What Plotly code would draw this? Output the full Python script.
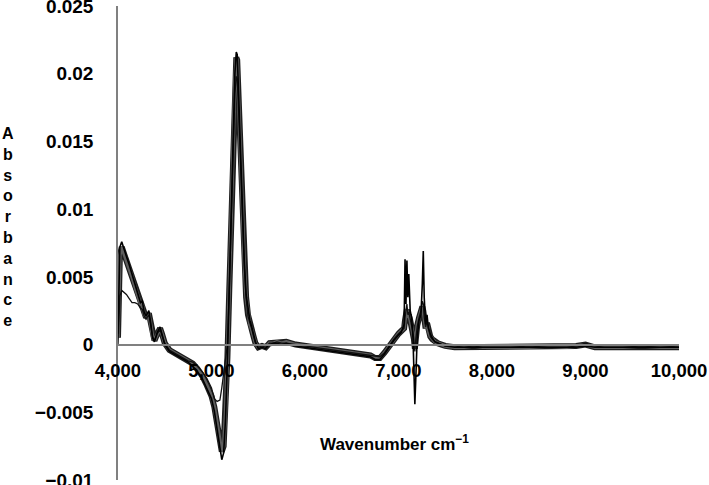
import plotly.graph_objects as go

wavenumber = [
    4000, 4020, 4040, 4060, 4090, 4120, 4150, 4180, 4210, 4240,
    4260, 4280, 4300, 4330, 4350, 4370, 4390, 4420, 4450, 4470,
    4500, 4550, 4600, 4650, 4700, 4750, 4800, 4850, 4900, 4950,
    5000, 5030, 5060, 5090, 5110, 5130, 5150, 5170, 5190, 5210,
    5230, 5250, 5265, 5275, 5290, 5310, 5330, 5350, 5370, 5390,
    5410, 5430, 5450, 5470, 5500, 5540, 5580, 5620, 5660, 5700,
    5750, 5800, 5900, 6000, 6100, 6200, 6300, 6400, 6500, 6600,
    6700, 6750, 6800, 6850, 6900, 6950, 7000, 7030, 7060, 7070,
    7080, 7090, 7100, 7110, 7125, 7140, 7155, 7165, 7175, 7185,
    7200, 7220, 7240, 7255, 7265, 7275, 7290, 7305, 7320, 7340,
    7360, 7390, 7420, 7460, 7500, 7600, 7700, 7800, 7900, 8000,
    8200, 8400, 8600, 8800, 8900, 9000, 9100, 9200, 9400, 9600,
    9800, 10000,
]

# main band of spectra (grey)
spectrum_a = [
    0.0005, 0.0066, 0.0072, 0.0068, 0.0063, 0.0057, 0.0050, 0.0043, 0.0036, 0.0030,
    0.0029, 0.0022, 0.0020, 0.0023, 0.0015, 0.0006, 0.0003, 0.0008, 0.0012, 0.0008,
    0.0001, -0.0004, -0.0006, -0.0008, -0.0010, -0.0012, -0.0014, -0.0018, -0.0023, -0.0030,
    -0.0038, -0.0046, -0.0058, -0.0072, -0.0079, -0.0075, -0.0050, -0.0010, 0.0040, 0.0095,
    0.0150, 0.0195, 0.0212, 0.0210, 0.0180, 0.0140, 0.0095, 0.0060, 0.0035, 0.0022,
    0.0015, 0.0011, 0.0006, 0.0001, -0.0002, -0.0001, -0.0002, 0.0001, 0.0001, 0.0002,
    0.0001, 0.0002, 0.0000, -0.0001, -0.0002, -0.0003, -0.0004, -0.0005, -0.0006, -0.0007,
    -0.0008, -0.0010, -0.0010, -0.0006, -0.0001, 0.0004, 0.0008, 0.0010, 0.0012, 0.0018,
    0.0024, 0.0026, 0.0020, 0.0022, 0.0018, 0.0014, 0.0008, 0.0004, -0.0003, 0.0005,
    0.0014, 0.0020, 0.0024, 0.0028, 0.0025, 0.0018, 0.0012, 0.0016, 0.0010, 0.0006,
    0.0004, 0.0002, 0.0001, 0.0000, -0.0001, -0.0002, -0.0002, -0.0001, -0.0002, -0.0002,
    -0.0002, -0.0002, -0.0001, -0.0002, -0.0001, 0.0000, -0.0002, -0.0002, -0.0002, -0.0001,
    -0.0002, -0.0002,
]

# black spectrum with sharp water-vapour spikes
spectrum_b = [
    0.0008, 0.0072, 0.0076, 0.0071, 0.0065, 0.0059, 0.0052, 0.0044, 0.0037, 0.0031,
    0.0032, 0.0024, 0.0021, 0.0025, 0.0016, 0.0005, 0.0002, 0.0009, 0.0013, 0.0007,
    0.0000, -0.0005, -0.0007, -0.0009, -0.0011, -0.0013, -0.0016, -0.0020, -0.0025, -0.0032,
    -0.0040, -0.0049, -0.0062, -0.0077, -0.0085, -0.0080, -0.0055, -0.0012, 0.0042, 0.0098,
    0.0155, 0.0200, 0.0216, 0.0214, 0.0185, 0.0145, 0.0098, 0.0063, 0.0037, 0.0026,
    0.0018, 0.0013, 0.0007, 0.0002, -0.0003, -0.0002, -0.0003, 0.0000, 0.0001, 0.0001,
    0.0000, 0.0001, -0.0001, -0.0002, -0.0003, -0.0004, -0.0005, -0.0006, -0.0007, -0.0008,
    -0.0009, -0.0011, -0.0011, -0.0007, -0.0002, 0.0003, 0.0007, 0.0009, 0.0015, 0.0063,
    0.0030, 0.0062, 0.0035, 0.0052, 0.0025, 0.0020, 0.0005, -0.0020, -0.0044, -0.0025,
    0.0005, 0.0018, 0.0022, 0.0045, 0.0069, 0.0035, 0.0015, 0.0022, 0.0012, 0.0008,
    0.0005, 0.0002, 0.0001, 0.0000, -0.0001, -0.0002, -0.0002, -0.0002, -0.0002, -0.0002,
    -0.0002, -0.0002, -0.0002, -0.0002, -0.0002, -0.0001, -0.0002, -0.0002, -0.0002, -0.0002,
    -0.0002, -0.0002,
]

# thin spectrum with lower start and shallow minimum
spectrum_c = [
    0.0000, 0.0036, 0.0040, 0.0039, 0.0037, 0.0034, 0.0031, 0.0031, 0.0030, 0.0027,
    0.0026, 0.0021, 0.0019, 0.0022, 0.0015, 0.0006, 0.0003, 0.0008, 0.0011, 0.0007,
    0.0001, -0.0004, -0.0006, -0.0008, -0.0010, -0.0012, -0.0013, -0.0016, -0.0020, -0.0025,
    -0.0032, -0.0040, -0.0042, -0.0041, -0.0032, -0.0022, -0.0010, 0.0000, 0.0040, 0.0093,
    0.0145, 0.0185, 0.0198, 0.0196, 0.0172, 0.0135, 0.0092, 0.0058, 0.0034, 0.0021,
    0.0016, 0.0012, 0.0006, 0.0001, -0.0002, -0.0001, -0.0002, 0.0001, 0.0001, 0.0002,
    0.0001, 0.0001, 0.0000, -0.0001, -0.0002, -0.0003, -0.0004, -0.0005, -0.0006, -0.0007,
    -0.0008, -0.0009, -0.0009, -0.0006, -0.0001, 0.0004, 0.0008, 0.0010, 0.0012, 0.0020,
    0.0026, 0.0030, 0.0022, 0.0024, 0.0019, 0.0015, 0.0009, 0.0003, -0.0005, 0.0004,
    0.0013, 0.0020, 0.0025, 0.0032, 0.0030, 0.0020, 0.0013, 0.0017, 0.0011, 0.0006,
    0.0004, 0.0002, 0.0001, 0.0000, -0.0001, -0.0001, -0.0002, -0.0001, -0.0002, -0.0002,
    -0.0002, -0.0001, -0.0002, -0.0002, -0.0001, 0.0001, -0.0001, -0.0002, -0.0002, -0.0001,
    -0.0002, -0.0001,
]

x_ticks = [4000, 5000, 6000, 7000, 8000, 9000, 10000]
x_tick_labels = ["4,000", "5,000", "6,000", "7,000", "8,000", "9,000", "10,000"]
y_ticks = [-0.01, -0.005, 0, 0.005, 0.01, 0.015, 0.02, 0.025]
y_tick_labels = ["\u22120.01", "\u22120.005", "0", "0.005", "0.01", "0.015", "0.02", "0.025"]

FONT = "Liberation Sans, Arial, sans-serif"

fig = go.Figure()
fig.add_trace(go.Scatter(x=wavenumber, y=spectrum_a, mode="lines",
                         line=dict(color="#1e1e1e", width=6), hoverinfo="skip"))
fig.add_trace(go.Scatter(x=wavenumber, y=spectrum_a, mode="lines",
                         line=dict(color="#5e5e5e", width=3.5), hoverinfo="skip"))
fig.add_trace(go.Scatter(x=wavenumber, y=spectrum_c, mode="lines",
                         line=dict(color="#111111", width=1.3), hoverinfo="skip"))
fig.add_trace(go.Scatter(x=wavenumber, y=spectrum_b, mode="lines",
                         line=dict(color="#000000", width=1.6), hoverinfo="skip"))

y_min, y_max = -0.01, 0.025
H, T, B = 485, 6, 5
plot_h = H - T - B


def y_paper(px):
    return 1 - (px - T) / plot_h


fig.update_layout(
    width=709, height=H,
    margin=dict(l=118, r=30, t=T, b=B, autoexpand=False),
    paper_bgcolor="white", plot_bgcolor="white",
    showlegend=False,
    font=dict(family=FONT, color="black"),
    xaxis=dict(
        range=[4000, 10000],
        anchor="free",
        position=(0 - y_min) / (y_max - y_min),
        automargin=False,
        ticklabeloverflow="allow",
        showline=True, linecolor="#808080", linewidth=1.5,
        showgrid=False, zeroline=False,
        tickvals=x_ticks, ticktext=x_tick_labels,
        ticks="outside", ticklen=9, tickcolor="rgba(0,0,0,0)",
        tickfont=dict(family=FONT, size=18.5, weight="bold", color="black"),
    ),
    yaxis=dict(
        range=[y_min, y_max],
        automargin=False,
        ticklabeloverflow="allow",
        showline=True, linecolor="#808080", linewidth=1.5,
        showgrid=False, zeroline=False,
        tickvals=y_ticks, ticktext=y_tick_labels,
        ticks="outside", ticklen=19, tickcolor="rgba(0,0,0,0)",
        tickfont=dict(family=FONT, size=19, weight="bold", color="black"),
    ),
    annotations=[
        dict(text="A<br>b<br>s<br>o<br>r<br>b<br>a<br>n<br>c<br>e",
             xref="paper", yref="paper", x=(8 - 118) / 561, y=y_paper(227),
             xanchor="center", yanchor="middle", showarrow=False, align="center",
             font=dict(family=FONT, size=16, weight="bold", color="black")),
        dict(text="Wavenumber cm<sup>\u22121</sup>",
             xref="paper", yref="paper", x=(394 - 118) / 561, y=y_paper(443),
             xanchor="center", yanchor="middle", showarrow=False,
             font=dict(family=FONT, size=17, weight="bold", color="black")),
    ],
)

# remove the default page margin so the figure sits at the window's top-left corner
fig.write_html(
    "out.html",
    config={"displayModeBar": False},
    post_script="document.body.style.margin='0';document.body.style.overflow='hidden';",
)
